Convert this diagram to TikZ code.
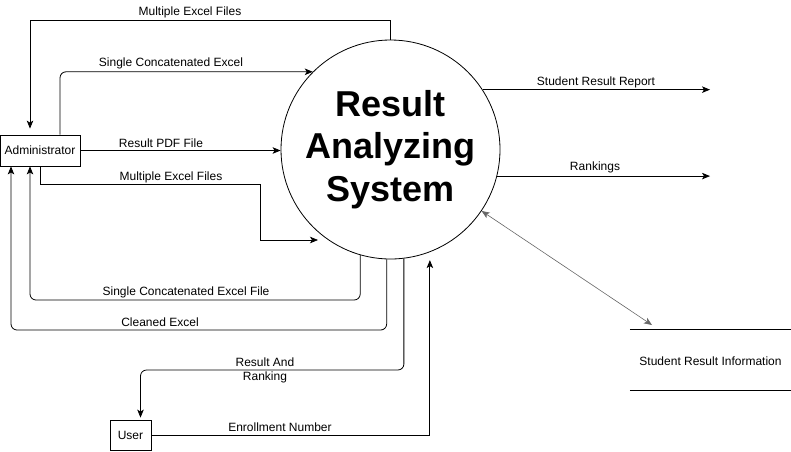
\documentclass[tikz,border=0pt]{standalone}
\usepackage{fontspec}
\setmainfont{Liberation Sans}
\usetikzlibrary{arrows.meta}

\begin{document}
\begin{tikzpicture}[x=1pt,y=-1pt,
        fluss/.style={line width=0.8pt, -{Stealth[length=8pt,width=6.5pt,inset=2pt]}},
        beide/.style={line width=0.6pt, draw=gray!80!black, {Stealth[length=8pt,width=6.5pt,inset=2pt]}-{Stealth[length=8pt,width=6.5pt,inset=2pt]}},
        kasten/.style={draw, line width=0.8pt, inner sep=0pt, font=\fontsize{12}{14}\selectfont},
        lbl/.style={inner sep=0pt, font=\fontsize{12}{14}\selectfont}]
        \useasboundingbox (0,0) rectangle (791,451);

        % Prozess in der Mitte
        \node[circle, draw, line width=0.8pt, inner sep=0pt, minimum size=219pt, align=center,
              font=\fontsize{36}{42.5}\selectfont\bfseries] (sys) at (390.5,149.5)
              {Result\\Analyzing\\System};

        % Externe Einheiten und Datenspeicher
        \node[kasten, minimum width=80pt, minimum height=31pt] (adm) at (40,150.5) {Administrator};
        \node[kasten, minimum width=41pt, minimum height=30pt] (usr) at (130.5,435) {User};
        \node[lbl, minimum width=161pt, minimum height=60pt] (store) at (710.5,361) {Student Result Information};
        \draw[line width=0.8pt] ([yshift=1pt]store.north west) -- ([yshift=1pt]store.north east);
        \draw[line width=0.8pt] ([yshift=1pt]store.south west) -- ([yshift=1pt]store.south east);

        % Freie Enden
        \coordinate (in2) at (318,240);
        \coordinate (rep) at (710,0);
        \coordinate (ds) at (652,325);

        % Datenfluesse zwischen Administrator und System
        \draw[fluss] (sys.north) |- (30,20) -- ([xshift=-10pt,yshift=6pt]adm.north);
        \draw[fluss, rounded corners=6pt] ([xshift=20pt]adm.north) |- (sys.135);
        \draw[fluss] (adm.east) -- (adm.east -| sys.west);
        \draw[fluss] (adm.south) |- (260,184) |- (in2);
        \draw[fluss, rounded corners=6pt] (sys.254) |- (30,300) -- ([xshift=-10pt]adm.south);
        \draw[fluss, rounded corners=6pt] (sys.268) |- (11,330) -- ([xshift=-29pt]adm.south);

        % Datenfluesse zwischen User und System
        \draw[fluss, rounded corners=6pt] (sys.277) |- (140.5,370) -- ([xshift=10pt,yshift=2pt]usr.north);
        \draw[fluss] (usr.east) -| ([yshift=-8pt]sys.291);

        % Ausgaben und Speicher
        \draw[fluss] (sys.33) -- (sys.33 -| rep);
        \draw[fluss] (sys.346) -- (sys.346 -| rep);
        \draw[beide] (sys.326) -- (ds);

        % Beschriftungen
        \node[lbl] (t1) at (190,12) {Multiple Excel Files};
        \node[lbl] (t2) at (171,63) {Single Concatenated Excel};
        \node[lbl] (t3) at (161,143) {Result PDF File};
        \node[lbl] (t4) at (171,177.5) {Multiple Excel Files};
        \node[lbl] (t5) at (186,292) {Single Concatenated Excel File};
        \node[lbl] (t6) at (160,322.5) {Cleaned Excel};
        \node[lbl, align=center] (t7) at (265,370) {Result And\\Ranking};
        \node[lbl] (t8) at (280,427) {Enrollment Number};
        \node[lbl] (t9) at (596,82) {Student Result Report};
        \node[lbl] (t10) at (595,167) {Rankings};

    \end{tikzpicture}
\end{document}
